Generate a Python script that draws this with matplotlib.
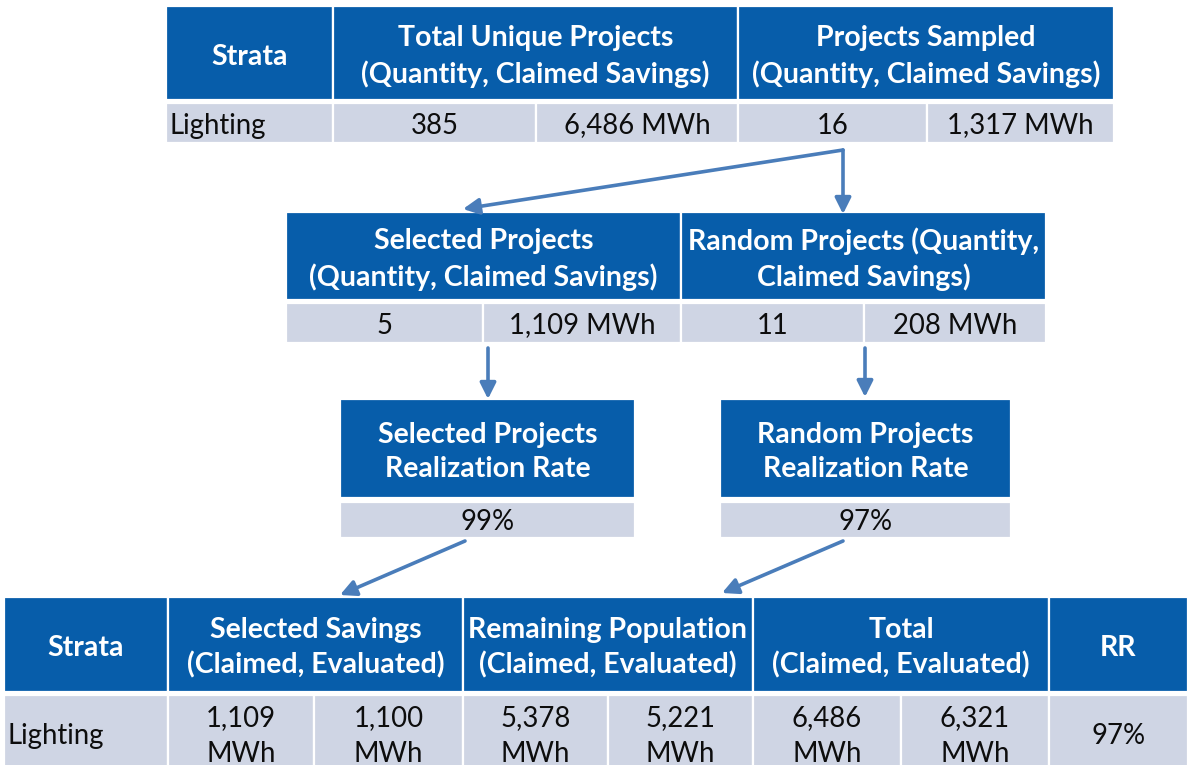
import matplotlib.pyplot as plt
from matplotlib.patches import Rectangle

# === Цвета ===
HEAD = '#075DAA'
CELL = '#CFD5E4'
ARROW = '#4A7DBA'
FONT = 'Lato'

# === Данные ===
top_headers = ['Strata', 'Total Unique Projects\n(Quantity, Claimed Savings)',
               'Projects Sampled\n(Quantity, Claimed Savings)']
top_row = ['Lighting', '385', '6,486 MWh', '16', '1,317 MWh']

mid_headers = ['Selected Projects\n(Quantity, Claimed Savings)',
               'Random Projects (Quantity,\nClaimed Savings)']
mid_row = ['5', '1,109 MWh', '11', '208 MWh']

rr_headers = ['Selected Projects\nRealization Rate', 'Random Projects\nRealization Rate']
rr_values = ['99%', '97%']

bottom_headers = ['Strata', 'Selected Savings\n(Claimed, Evaluated)',
                  'Remaining Population\n(Claimed, Evaluated)',
                  'Total\n(Claimed, Evaluated)', 'RR']
bottom_row = ['Lighting', '1,109\nMWh', '1,100\nMWh', '5,378\nMWh', '5,221\nMWh',
              '6,486\nMWh', '6,321\nMWh', '97%']

fig = plt.figure(figsize=(11.88, 7.65), dpi=100)
ax = fig.add_axes([0, 0, 1, 1])
ax.set_xlim(0, 1188)
ax.set_ylim(765, 0)
ax.axis('off')


def cell(x0, x1, y0, y1, text, head=False, left=False):
    ax.add_patch(Rectangle((x0, y0), x1 - x0, y1 - y0, facecolor=HEAD if head else CELL,
                           edgecolor='white', linewidth=1.6))
    yc = (y0 + y1) / 2 + 3.5
    if head:
        ax.text((x0 + x1) / 2, yc, text, ha='center', va='center',
                color='white', fontsize=20.5, fontweight='bold', family=FONT,
                linespacing=1.38)
    else:
        ax.text(x0 + 4 if left else (x0 + x1) / 2, yc - 1, text,
                ha='left' if left else 'center', va='center', color='#0d0d0d',
                fontsize=19.8, family=FONT, linespacing=1.45)


def arrow(p0, p1):
    ax.annotate('', xy=p1, xytext=p0,
                arrowprops=dict(arrowstyle='-|>', color=ARROW, lw=2.6,
                                mutation_scale=24, shrinkA=0, shrinkB=0))


# верхняя таблица
hx = [166, 333, 738, 1114]
for i, t in enumerate(top_headers):
    cell(hx[i], hx[i + 1], 6, 100, t, head=True)
dx = [166, 333, 536, 738, 927, 1114]
for i, t in enumerate(top_row):
    cell(dx[i], dx[i + 1], 103, 143, t, left=(i == 0))

# средняя таблица
mx = [286, 681, 1046]
for i, t in enumerate(mid_headers):
    cell(mx[i], mx[i + 1], 212, 300, t, head=True)
mdx = [286, 483, 681, 864, 1046]
for i, t in enumerate(mid_row):
    cell(mdx[i], mdx[i + 1], 303, 343, t)

# блоки RR
rr_x = [(340, 635), (720, 1011)]
for (x0, x1), h, v in zip(rr_x, rr_headers, rr_values):
    cell(x0, x1, 399, 498, h, head=True)
    cell(x0, x1, 502, 538, v)

# нижняя таблица
bx = [4, 168, 463, 753, 1049, 1188]
for i, t in enumerate(bottom_headers):
    cell(bx[i], bx[i + 1], 597, 692, t, head=True)
bdx = [4, 168, 314, 463, 608, 753, 901, 1049, 1188]
for i, t in enumerate(bottom_row):
    cell(bdx[i], bdx[i + 1], 695, 772, t, left=(i == 0))

# стрелки
arrow((843, 150), (463, 209))
arrow((843, 150), (843, 214))
arrow((488, 348), (488, 399))
arrow((865, 348), (865, 397))
arrow((465, 541), (340, 595))
arrow((843, 541), (722, 593))

fig.savefig('out.png', dpi=100)
